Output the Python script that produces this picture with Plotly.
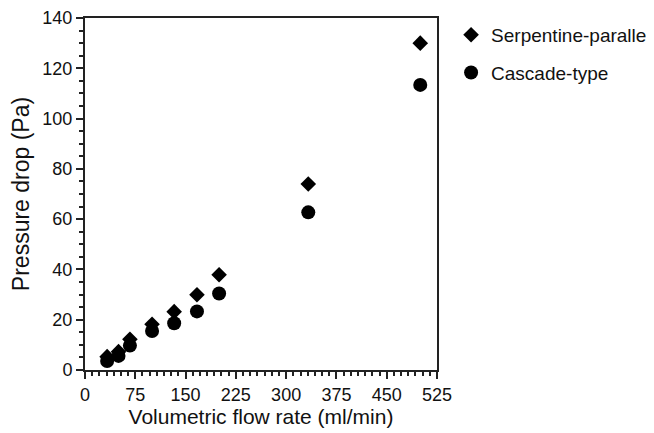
import plotly.graph_objects as go

flow = [33, 50, 67, 100, 133, 167, 200, 333, 500]
serpentine = [5.3, 7.3, 12.2, 18.2, 23.2, 29.9, 37.9, 74.0, 130.0]
cascade = [3.6, 5.6, 9.7, 15.5, 18.6, 23.3, 30.4, 62.7, 113.4]

x_ticks = [0, 75, 150, 225, 300, 375, 450, 525]
y_ticks = [0, 20, 40, 60, 80, 100, 120, 140]

fig = go.Figure()
fig.add_trace(go.Scatter(
    x=flow, y=serpentine, mode="markers", name="Serpentine-parallel",
    legendgroup="a",
    marker=dict(symbol="diamond", size=12, color="black"),
))
fig.add_trace(go.Scatter(
    x=flow, y=cascade, mode="markers", name="Cascade-type",
    legendgroup="b",
    marker=dict(symbol="circle", size=14, color="black"),
))

axis_common = dict(
    showline=True, linecolor="#222", linewidth=2, mirror=True,
    ticks="outside", ticklen=7, tickwidth=1.5, tickcolor="#222",
    showgrid=False, zeroline=False,
    tickfont=dict(family="Liberation Sans, Arial", size=18, color="#111"),
)

# page body has an 8px margin, so the figure is shifted by 8px; compensate
fig.update_layout(
    width=646, height=425,
    margin=dict(l=77, r=217, t=10, b=63, autoexpand=False),
    paper_bgcolor="white", plot_bgcolor="white",
    font=dict(family="Liberation Sans, Arial", color="#111"),
    xaxis=dict(
        range=[0, 525], tickvals=x_ticks,
        title=dict(text="Volumetric flow rate (ml/min)", font=dict(size=21), standoff=1),
        minor=dict(ticks="outside", ticklen=4, dtick=75 / 7, tick0=0, tickcolor="#222"),
        **axis_common,
    ),
    yaxis=dict(
        range=[0, 140], tickvals=y_ticks,
        title=dict(text="Pressure drop (Pa)", font=dict(size=23), standoff=8),
        minor=dict(ticks="outside", ticklen=4, dtick=5, tick0=0, tickcolor="#222"),
        **axis_common,
    ),
    legend=dict(
        x=1.04, y=1.006, xanchor="left", yanchor="top",
        font=dict(size=19, color="#111"),
        tracegroupgap=10, bgcolor="rgba(0,0,0,0)",
    ),
    showlegend=True,
)

fig.write_html("out.html")
